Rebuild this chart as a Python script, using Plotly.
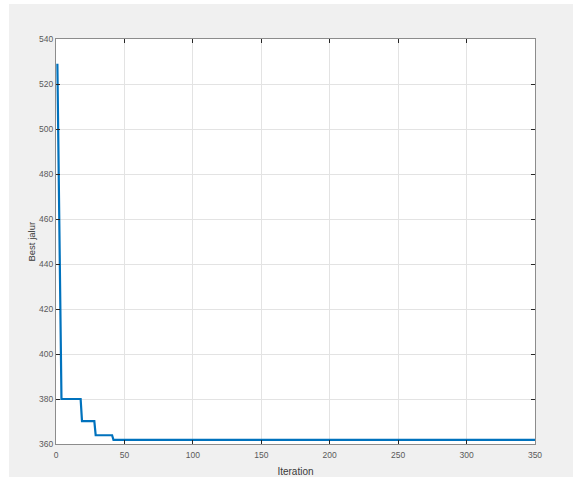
import plotly.graph_objects as go

# Line vertices (iteration, best path length)
iterations = [1, 4, 18, 19, 28, 29, 41, 42, 350]
best_jalur = [529, 380, 380, 370.2, 370.2, 363.9, 363.9, 361.8, 361.8]

x_ticks = [0, 50, 100, 150, 200, 250, 300, 350]
y_ticks = [360, 380, 400, 420, 440, 460, 480, 500, 520, 540]

font_family = "Liberation Sans Narrow, Arial Narrow, Liberation Sans, Arial, sans-serif"

fig = go.Figure()
fig.add_trace(go.Scatter(
    x=iterations, y=best_jalur, mode="lines",
    line=dict(color="#0072BD", width=2.2),
    showlegend=False,
))

axis_common = dict(
    showline=True, linecolor="#8c8c8c", linewidth=1, mirror="allticks",
    ticks="inside", ticklen=4, tickcolor="#262626", tickwidth=1,
    showgrid=True, gridcolor="#e3e3e3", gridwidth=1, zeroline=False,
    tickfont=dict(family=font_family, size=8.5, color="#5a5a5a"),
    automargin=False,
)

fig.update_xaxes(
    range=[0, 350], tickvals=x_ticks, ticktext=[str(v) for v in x_ticks],
    ticklabelstandoff=3,
    title=dict(text="Iteration", font=dict(family=font_family, size=10, color="#3a3a3a"), standoff=8),
    **axis_common,
)
fig.update_yaxes(
    range=[360, 540], tickvals=y_ticks, ticktext=[str(v) for v in y_ticks],
    **axis_common,
)

fig.update_layout(
    width=573, height=477,
    margin=dict(l=56, r=38, t=39, b=33),
    paper_bgcolor="#f0f0f0", plot_bgcolor="#ffffff",
    annotations=[
        dict(text="Best jalur", xref="paper", yref="paper", x=-25/479, y=0.5,
             xanchor="center", yanchor="middle", textangle=-90, showarrow=False,
             font=dict(family="Liberation Sans, Arial, sans-serif", size=9.5, color="#3a3a3a")),
    ],
    shapes=[
        dict(type="rect", xref="paper", yref="paper", x0=-0.2, x1=-56/479 + 9/479, y0=-0.2, y1=1.2,
             fillcolor="#ffffff", line=dict(width=0), layer="above"),
        dict(type="rect", xref="paper", yref="paper", x0=-0.2, x1=1.2, y0=1 + 35/405, y1=1.2,
             fillcolor="#ffffff", line=dict(width=0), layer="above"),
    ],
)

fig.write_html("out.html", config={"displayModeBar": False},
               post_script="document.body.style.margin='0';document.body.style.overflow='hidden';")
